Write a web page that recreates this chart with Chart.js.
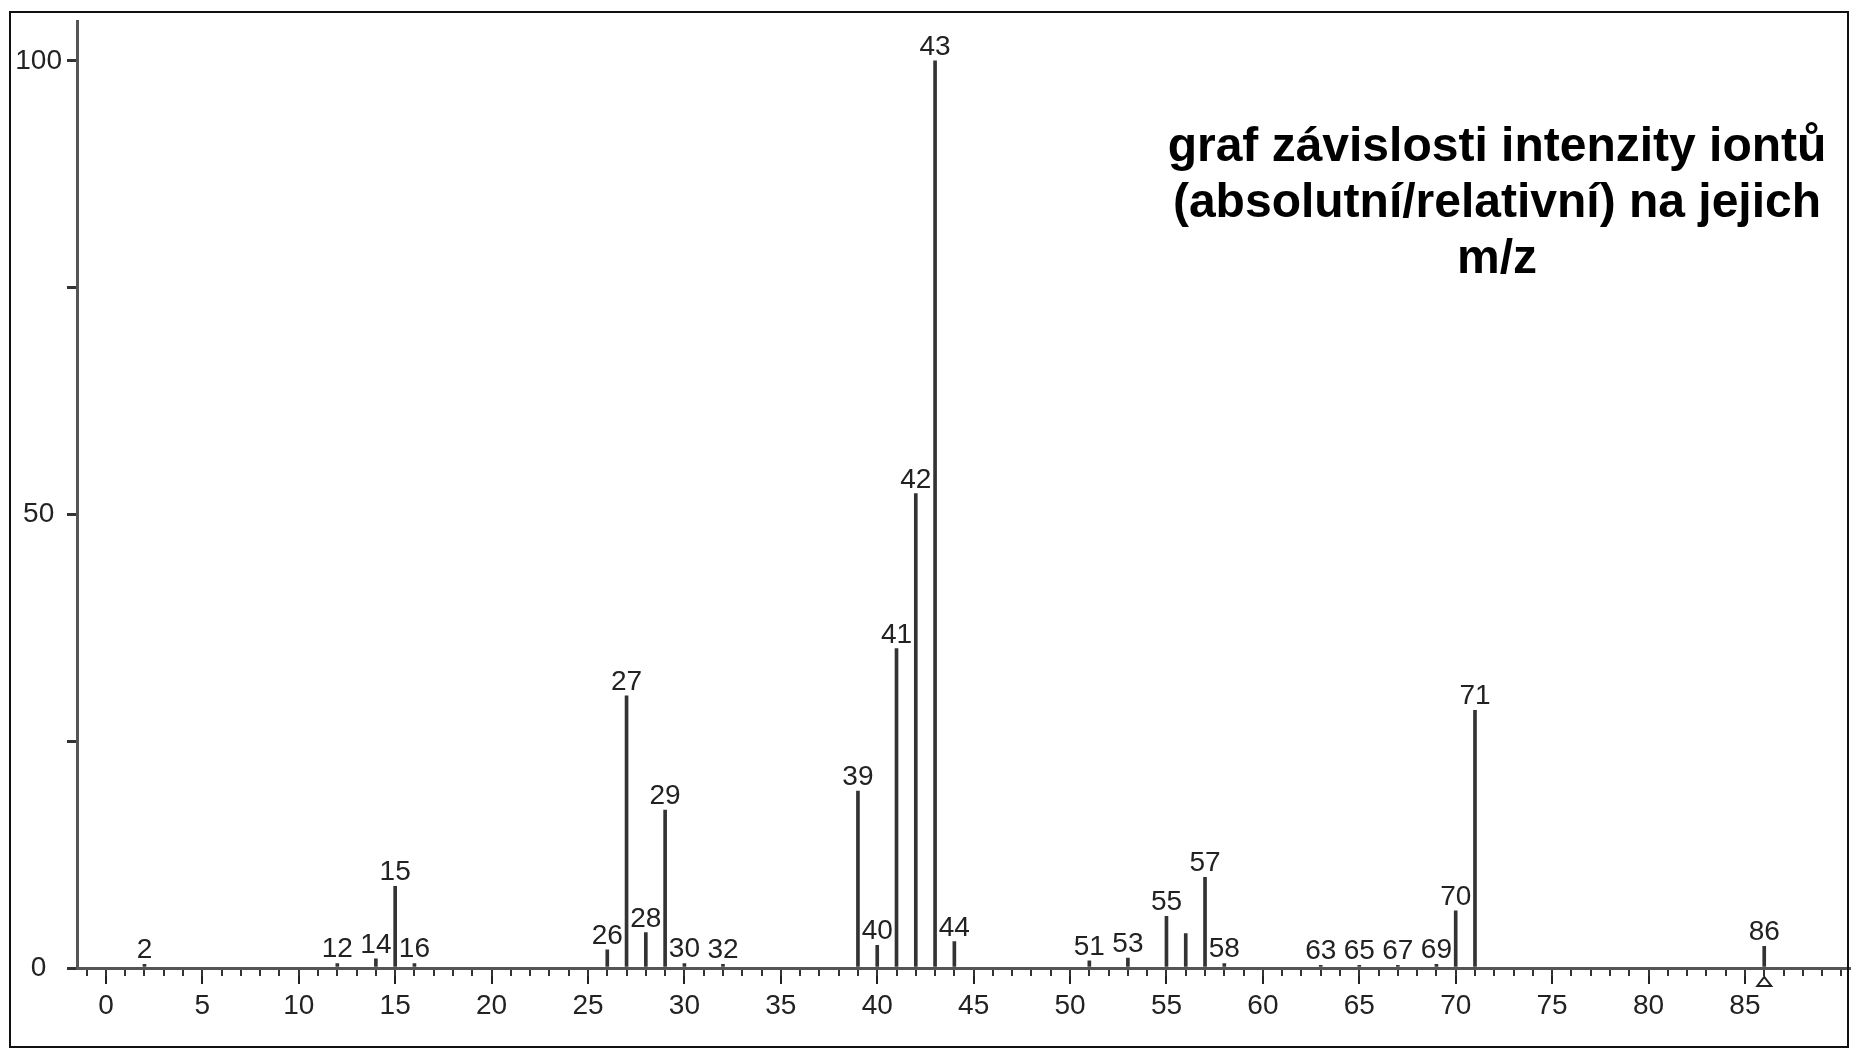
<!DOCTYPE html>
<html>
<head>
<meta charset="utf-8">
<script src="https://cdn.jsdelivr.net/npm/chart.js@4.4.1/dist/chart.umd.min.js"></script>
<style>
html, body { margin: 0; padding: 0; background: #fff; }
#wrap { position: relative; width: 1851px; height: 1050px; overflow: hidden; }
#c { position: absolute; left: 0; top: 0; }
#frame { position: absolute; left: 9px; top: 11px; width: 1836px; height: 1033px; border: 2px solid #111; pointer-events: none; }
#title { position: absolute; left: 1117px; width: 760px; top: 117px; font-family: "Liberation Sans", Arial, sans-serif; font-weight: bold; font-size: 48px; line-height: 56px; text-align: center; color: #000; }
</style>
</head>
<body>
<div id="wrap">
  <canvas id="c" width="1851" height="1050"></canvas>
  <div id="frame"></div>
  <div id="title">graf závislosti intenzity iontů<br>(absolutní/relativní) na jejich<br>m/z</div>
</div>
<script>
// m/z values of the peaks
const mzValues = [2, 12, 14, 15, 16, 26, 27, 28, 29, 30, 32, 39, 40, 41, 42, 43, 44, 51, 53, 55, 56, 57, 58, 63, 65, 67, 69, 70, 71, 86];
// relative intensities (%)
const intensities = [0.4, 0.5, 1.0, 9.0, 0.5, 2.0, 30.0, 3.9, 17.4, 0.5, 0.4, 19.5, 2.5, 35.2, 52.3, 100, 2.9, 0.8, 1.1, 5.7, 3.8, 10.0, 0.5, 0.3, 0.3, 0.3, 0.4, 6.3, 28.4, 2.4];
// text printed above each peak
const peakLabels = ['2', '12', '14', '15', '16', '26', '27', '28', '29', '30', '32', '39', '40', '41', '42', '43', '44', '51', '53', '55', '', '57', '58', '63', '65', '67', '69', '70', '71', '86'];
// axis ticks
const xMajorTicks = [0, 5, 10, 15, 20, 25, 30, 35, 40, 45, 50, 55, 60, 65, 70, 75, 80, 85];
const xMinorTicks = [-1, 0, 1, 2, 3, 4, 5, 6, 7, 8, 9, 10, 11, 12, 13, 14, 15, 16, 17, 18, 19, 20, 21, 22, 23, 24, 25, 26, 27, 28, 29, 30, 31, 32, 33, 34, 35, 36, 37, 38, 39, 40, 41, 42, 43, 44, 45, 46, 47, 48, 49, 50, 51, 52, 53, 54, 55, 56, 57, 58, 59, 60, 61, 62, 63, 64, 65, 66, 67, 68, 69, 70, 71, 72, 73, 74, 75, 76, 77, 78, 79, 80, 81, 82, 83, 84, 85, 86, 87, 88, 89, 90];
const yTicks = [0, 25, 50, 75, 100];
const yTickLabels = ['0', '', '50', '', '100'];
// marked molecular ion (triangle under the axis)
const markedMz = [86];

const tickFont = { family: '"Liberation Sans", Arial, sans-serif', size: 28 };
const inkColor = '#222';
const axisColor = '#555';

const peakLabelPlugin = {
  id: 'peakLabels',
  afterDatasetsDraw(chart) {
    const ctx = chart.ctx;
    const meta = chart.getDatasetMeta(0);
    ctx.save();
    ctx.font = '28px ' + tickFont.family;
    ctx.fillStyle = inkColor;
    ctx.textAlign = 'center';
    ctx.textBaseline = 'alphabetic';
    meta.data.forEach((el, i) => {
      const t = peakLabels[i];
      if (t) ctx.fillText(t, el.x, el.y - 6);
    });
    const xs = chart.scales.x, ys = chart.scales.y;
    const base = ys.getPixelForValue(0);
    ctx.strokeStyle = inkColor;
    ctx.lineWidth = 2;
    markedMz.forEach(m => {
      const px = xs.getPixelForValue(m);
      ctx.beginPath();
      ctx.moveTo(px - 7, base + 18);
      ctx.lineTo(px, base + 9);
      ctx.lineTo(px + 7, base + 18);
      ctx.closePath();
      ctx.stroke();
    });
    ctx.restore();
  }
};

const chart = new Chart(document.getElementById('c'), {
  type: 'bar',
  data: {
    datasets: [{
      data: mzValues.map((m, i) => ({ x: m, y: intensities[i] })),
      backgroundColor: '#333',
      borderWidth: 0,
      barThickness: 3,
      xAxisID: 'x',
      yAxisID: 'y'
    }]
  },
  options: {
    responsive: false,
    devicePixelRatio: 1,
    animation: false,
    layout: { padding: { top: 21, left: 0, right: 0, bottom: 0 } },
    plugins: { legend: { display: false }, tooltip: { enabled: false }, title: { display: false } },
    scales: {
      x: {
        type: 'linear',
        position: 'bottom',
        min: -1.5,
        max: 90.5,
        offset: false,
        weight: 0,
        afterBuildTicks: s => { s.ticks = xMajorTicks.map(v => ({ value: v })); },
        afterFit: s => { s.height = 82; },
        ticks: { font: tickFont, color: inkColor, padding: 5, maxRotation: 0, autoSkip: false, callback: v => String(v) },
        grid: { offset: false, drawOnChartArea: false, drawTicks: true, tickLength: 16, color: '#222', lineWidth: 2 },
        border: { display: true, color: axisColor, width: 3 }
      },
      xMinor: {
        type: 'linear',
        position: { y: 0 },
        axis: 'x',
        min: -1.5,
        max: 90.5,
        offset: false,
        afterBuildTicks: s => { s.ticks = xMinorTicks.map(v => ({ value: v })); },
        afterFit: s => { s.height = 0; },
        ticks: { display: false },
        grid: { offset: false, drawOnChartArea: false, drawTicks: true, tickLength: 8, color: '#333', lineWidth: 2 },
        border: { display: false }
      },
      y: {
        type: 'linear',
        position: 'left',
        min: 0,
        max: 104.3,
        afterBuildTicks: s => { s.ticks = yTicks.map(v => ({ value: v })); },
        afterFit: s => { s.width = 77; },
        ticks: { font: tickFont, color: inkColor, padding: 5, crossAlign: 'center', callback: (v) => yTickLabels[yTicks.indexOf(v)] },
        grid: { drawOnChartArea: false, drawTicks: true, tickLength: 10, color: '#333', lineWidth: 3 },
        border: { display: true, color: axisColor, width: 3 }
      }
    }
  },
  plugins: [peakLabelPlugin]
});
</script>
</body>
</html>
